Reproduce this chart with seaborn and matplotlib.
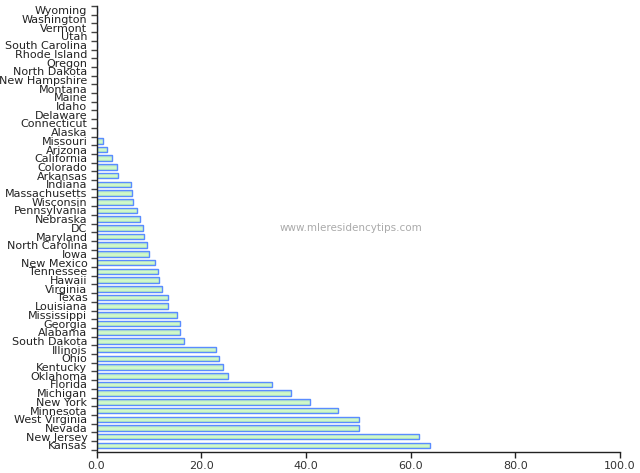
import matplotlib
matplotlib.use("Agg")
import matplotlib.pyplot as plt
import seaborn as sns
import pandas as pd
import numpy as np
from matplotlib.ticker import FixedLocator, FormatStrFormatter
from matplotlib.colors import LinearSegmentedColormap

states = ["Wyoming", "Washington", "Vermont", "Utah", "South Carolina", "Rhode Island",
          "Oregon", "North Dakota", "New Hampshire", "Montana", "Maine", "Idaho",
          "Delaware", "Connecticut", "Alaska", "Missouri", "Arizona", "California",
          "Colorado", "Arkansas", "Indiana", "Massachusetts", "Wisconsin", "Pennsylvania",
          "Nebraska", "DC", "Maryland", "North Carolina", "Iowa", "New Mexico",
          "Tennessee", "Hawaii", "Virginia", "Texas", "Louisiana", "Mississippi",
          "Georgia", "Alabama", "South Dakota", "Illinois", "Ohio", "Kentucky",
          "Oklahoma", "Florida", "Michigan", "New York", "Minnesota", "West Virginia",
          "Nevada", "New Jersey", "Kansas"]
values = [0, 0, 0, 0, 0, 0,
          0, 0, 0, 0, 0, 0,
          0, 0, 0, 1.3, 2.0, 3.0,
          4.0, 4.1, 6.5, 6.7, 6.9, 7.8,
          8.3, 8.9, 9.1, 9.7, 10.0, 11.1,
          11.8, 12.0, 12.5, 13.6, 13.7, 15.4,
          16.0, 16.0, 16.7, 22.8, 23.4, 24.2,
          25.1, 33.6, 37.2, 40.8, 46.1, 50.1,
          50.1, 61.7, 63.7]
xticks = [0, 20, 40, 60, 80, 100]

df = pd.DataFrame({"state": states, "value": values})

sns.set_style("white")
plt.rcParams['font.family'] = ['DejaVu Sans']

fig = plt.figure(figsize=(6.4, 4.73), dpi=100)
ax = fig.add_axes([96.5/640, 1 - 452/473, (620 - 96.5)/640, (452 - 6)/473])

sns.barplot(data=df, x="value", y="state", orient="h", order=states,
            color="#c9f2c2", edgecolor="#5a8cff", linewidth=1.0, width=0.64, ax=ax)

ax.set_xlim(0, 100)
ax.set_ylim(len(states) - 1 + 0.76, -0.5)

# vertical gradient fill inside each bar (green on top, blue at bottom)
grad_cmap = LinearSegmentedColormap.from_list(
    "g", ["#b9f0b0", "#d6fbd0", "#c4f3be", "#8fb2ff"])
grad = np.linspace(0, 1, 64).reshape(-1, 1)
for p in list(ax.patches):
    w = p.get_width()
    if w <= 0:
        continue
    x0, y0 = p.get_x(), p.get_y()
    h = p.get_height()
    im = ax.imshow(grad, cmap=grad_cmap, aspect="auto",
                   extent=(x0, x0 + w, y0, y0 + h), origin="upper",
                   interpolation="bilinear", zorder=p.get_zorder())
    im.set_clip_path(p)
    p.set_facecolor("none")
    p.set_zorder(p.get_zorder() + 0.1)
ax.set_xlim(0, 100)
ax.set_ylim(len(states) - 1 + 0.76, -0.5)
ax.set_aspect("auto")

ax.set_xlabel("")
ax.set_ylabel("")
for s in ["top", "right"]:
    ax.spines[s].set_visible(False)
for s in ["left", "bottom"]:
    ax.spines[s].set_color("#222222")
    ax.spines[s].set_linewidth(1.0)

ax.set_xticks(xticks)
ax.xaxis.set_major_formatter(FormatStrFormatter("%.1f"))
ax.tick_params(axis="x", direction="out", length=4, width=1, colors="#222222",
               labelsize=8, labelcolor="#333333", pad=2.5, bottom=True)
ax.set_yticks(range(len(states)))
ax.set_yticklabels(states)
ax.tick_params(axis="y", which="major", length=0, labelsize=8, labelcolor="#222222", pad=6.5)
ax.yaxis.set_minor_locator(FixedLocator(np.arange(-0.5, len(states), 1.0)))
ax.tick_params(axis="y", which="minor", direction="out", length=4, width=1, colors="#444444", left=True)

fig.text(351/640, 1 - 228/473, "www.mleresidencytips.com", ha="center", va="center",
         fontsize=7.5, color="#aaaaaa")

fig.savefig("out.png", dpi=100)
